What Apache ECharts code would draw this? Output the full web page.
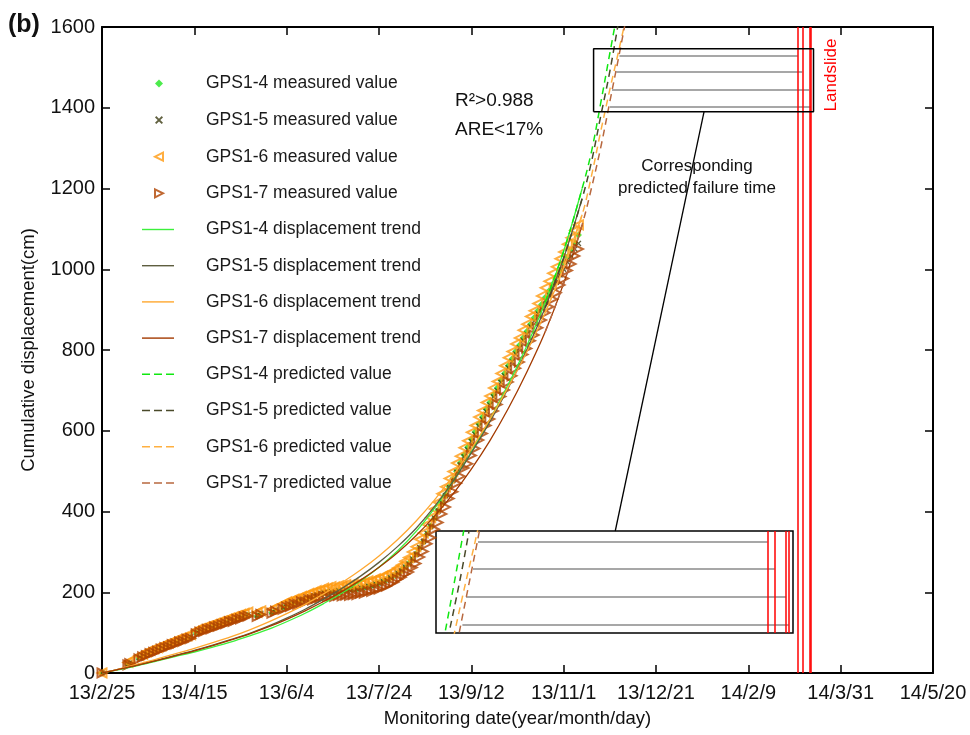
<!DOCTYPE html>
<html>
<head>
<meta charset="utf-8">
<script src="https://cdn.jsdelivr.net/npm/echarts@6/dist/echarts.min.js"></script>
<style>
  html, body { margin: 0; padding: 0; background: #fff; }
  #chart { width: 970px; height: 735px; }
</style>
</head>
<body>
<div id="chart"></div>
<script>
// Days counted from 2013/2/25; tick every 50 days.
const dateTicks = ['13/2/25', '13/4/15', '13/6/4', '13/7/24', '13/9/12', '13/11/1', '13/12/21', '14/2/9', '14/3/31', '14/5/20'];

// Observation days of the GPS survey
const obsDays = [0, 14, 15, 20, 22, 24, 26, 28, 30, 32, 34, 36, 38, 40, 42, 44, 46, 48,
  51, 53, 55, 57, 59, 61, 63, 65, 67, 69, 71, 73, 75, 77, 79, 84, 86, 92, 94,
  98, 100, 102, 104, 106, 108, 110, 112, 114, 116, 118, 120, 122, 124, 126, 128, 130, 132, 134, 136,
  138, 140, 142, 144, 146, 148, 150, 152, 154, 156, 158, 160, 162, 164, 166, 168, 170, 172, 174, 176,
  178, 180, 182, 184, 186, 188, 190, 192, 194, 196, 198, 200, 202, 204, 206, 208, 210, 212, 214, 216,
  218, 220, 222, 224, 226, 228, 230, 232, 234, 236, 238, 240, 242, 244, 246, 248, 250, 252, 254, 256, 258];

// Measured cumulative displacement (cm)
const gps14Measured = [0, 21, 24, 37, 41, 46, 49, 53, 57, 61, 64, 68, 71, 75, 78, 82, 85, 88,
  99, 102, 106, 108, 112, 115, 118, 121, 124, 127, 131, 133, 137, 140, 143, 141, 146, 150, 153,
  162, 166, 170, 173, 177, 180, 184, 186, 190, 192, 196, 198, 200, 201, 202, 203, 204, 205, 206, 207,
  208, 210, 212, 214, 217, 219, 223, 226, 231, 235, 241, 246, 254, 261, 271, 281, 295, 309, 326, 344,
  364, 383, 403, 422, 442, 461, 481, 500, 520, 540, 559, 579, 597, 617, 634, 653, 670, 689, 706, 725,
  742, 761, 778, 796, 812, 830, 846, 864, 880, 897, 913, 930, 946, 963, 980, 997, 1014, 1031, 1048, 1066, 1085];
const gps15Measured = [0, 22, 25, 38, 43, 46, 51, 54, 57, 62, 66, 68, 73, 75, 80, 82, 87, 89,
  100, 104, 106, 111, 112, 117, 119, 123, 125, 130, 131, 136, 137, 142, 144, 143, 148, 151, 156,
  163, 168, 170, 175, 176, 182, 183, 188, 189, 194, 195, 200, 200, 203, 202, 205, 204, 207, 206, 209,
  208, 212, 212, 216, 216, 221, 222, 228, 230, 237, 240, 248, 253, 263, 270, 283, 294, 311, 326, 346,
  363, 384, 401, 422, 439, 460, 477, 498, 515, 536, 553, 574, 591, 612, 628, 648, 664, 684, 700, 720,
  736, 756, 771, 790, 805, 824, 839, 858, 872, 890, 904, 922, 936, 954, 968, 986, 1000, 1018, 1032, 1050, 1064];
const gps16Measured = [0, 26, 30, 43, 47, 52, 56, 60, 63, 67, 71, 74, 78, 82, 85, 89, 92, 95,
  106, 110, 113, 116, 119, 123, 126, 129, 132, 136, 139, 142, 145, 148, 151, 150, 154, 158, 162,
  171, 176, 178, 183, 185, 190, 192, 197, 199, 204, 205, 210, 211, 214, 213, 216, 216, 219, 218, 221,
  220, 224, 224, 228, 228, 233, 234, 240, 242, 249, 252, 260, 267, 277, 286, 300, 313, 331, 347, 368,
  385, 406, 423, 444, 461, 482, 499, 520, 537, 558, 575, 596, 613, 634, 650, 670, 686, 706, 722, 742,
  761, 781, 796, 815, 830, 849, 864, 883, 897, 915, 934, 954, 970, 990, 1006, 1026, 1043, 1062, 1078, 1096, 1110];
const gps17Measured = [0, 20, 23, 35, 40, 43, 48, 51, 54, 59, 63, 65, 70, 72, 77, 79, 84, 86,
  97, 101, 103, 108, 109, 114, 116, 120, 122, 127, 128, 133, 134, 139, 141, 140, 145, 148, 153,
  158, 163, 165, 170, 170, 176, 176, 181, 181, 185, 186, 190, 189, 191, 190, 192, 191, 193, 192, 194,
  194, 198, 198, 202, 202, 207, 208, 213, 215, 221, 225, 232, 237, 245, 250, 261, 271, 287, 301, 320,
  335, 356, 373, 394, 411, 432, 449, 470, 487, 508, 518, 539, 556, 577, 593, 613, 629, 649, 665, 685,
  701, 721, 736, 755, 770, 789, 804, 823, 837, 855, 874, 892, 907, 926, 942, 961, 977, 997, 1013, 1033, 1050];

// Fitted displacement trend (cm)
const trendDays = [0, 10, 20, 30, 40, 50, 60, 70, 80, 90, 100, 110, 120, 130, 140, 150, 160, 170, 180, 190, 200, 210, 220, 230, 240, 250, 260];
const gps14Trend = [0, 9, 19, 30, 41, 52, 64, 77, 92, 108, 127, 148, 172, 198, 228, 262, 302, 350, 408, 474, 548, 628, 715, 810, 918, 1045, 1200];
const gps15Trend = [0, 10, 21, 32, 44, 56, 69, 83, 98, 116, 136, 158, 183, 210, 240, 274, 313, 358, 412, 474, 545, 622, 706, 800, 905, 1028, 1175];
const gps16Trend = [0, 11, 23, 35, 48, 61, 75, 90, 107, 126, 147, 170, 196, 224, 255, 290, 330, 376, 428, 488, 555, 628, 708, 795, 892, 1005, 1135];
const gps17Trend = [0, 10, 20, 31, 43, 55, 68, 82, 97, 114, 133, 154, 177, 202, 230, 262, 298, 340, 388, 443, 505, 575, 655, 745, 845, 965, 1110];

// Predicted displacement (cm)
const predDays = [240, 250, 260, 265, 270, 275, 280, 285];
const gps14Pred = [918, 1045, 1200, 1290, 1410, 1535, 1660, 1790];
const gps15Pred = [905, 1028, 1175, 1265, 1378, 1490, 1620, 1750];
const gps16Pred = [892, 1005, 1135, 1230, 1340, 1445, 1545, 1650];
const gps17Pred = [845, 965, 1110, 1200, 1300, 1415, 1530, 1650];

// Observed landslide times (days) and the predicted failure levels
const landslideDays = [376.8, 379.2, 383.0, 383.9];
const failureLevels = [1529, 1488, 1445, 1403];
const failureStartDays = [280.2, 278.5, 276.2, 275.0];

// Region enlarged in the inset
const zoomDays = [266.2, 385.3];
const zoomDisp = [1390, 1546];
const connectorDay = 326;

const FONT = '"Liberation Sans", Arial, Helvetica, sans-serif';
const pairs = (xs, ys) => xs.map((x, i) => [x, ys[i]]);

const COL = {
  m4: '#1fe61f', m5: '#3a3a10', m6: '#ff9a10', m7: '#b04400',
  t4: '#3cf03c', t5: '#5e5e40', t6: '#ffa830', t7: '#a33a00',
  p4: '#10e810', p5: '#4a4a2a', p6: '#ffb040', p7: '#b8683f'
};

const names = {
  m: ['GPS1-4 measured value', 'GPS1-5 measured value', 'GPS1-6 measured value', 'GPS1-7 measured value'],
  t: ['GPS1-4 displacement trend', 'GPS1-5 displacement trend', 'GPS1-6 displacement trend', 'GPS1-7 displacement trend'],
  p: ['GPS1-4 predicted value', 'GPS1-5 predicted value', 'GPS1-6 predicted value', 'GPS1-7 predicted value']
};

// marker shapes
const crossPath = 'path://M0,1.6L1.6,0L5,3.4L8.4,0L10,1.6L6.6,5L10,8.4L8.4,10L5,6.6L1.6,10L0,8.4L3.4,5Z';
const leftTri = 'path://M10,0L0,5L10,10Z';
const rightTri = 'path://M0,0L10,5L0,10Z';
// legend keys for lines
const solidKey = 'path://M0,0L32,0L32,1.4L0,1.4Z';
const dashKey = 'path://M0,0h8v1.5h-8zM12,0h8v1.5h-8zM24,0h8v1.5h-8z';

function measured(name, ys, symbol, size, itemStyle) {
  return {
    name, type: 'scatter', xAxisIndex: 0, yAxisIndex: 0,
    data: pairs(obsDays, ys), symbol, symbolSize: size, symbolKeepAspect: true,
    itemStyle, z: 2, silent: true
  };
}
function curve(name, xs, ys, color, dashed, axis, z) {
  return {
    name, type: 'line', xAxisIndex: axis, yAxisIndex: axis,
    data: pairs(xs, ys), symbol: 'none', showSymbol: false, smooth: 0.35, clip: true,
    lineStyle: { color, width: dashed ? 1.5 : 1.3, type: dashed ? [7, 5] : 'solid' },
    itemStyle: { color }, z: z || 3, silent: true
  };
}

const predSets = [[gps14Pred, COL.p4], [gps15Pred, COL.p5], [gps16Pred, COL.p6], [gps17Pred, COL.p7]];

const series = [
  measured(names.m[0], gps14Measured, 'diamond', 7, { color: COL.m4 }),
  measured(names.m[1], gps15Measured, crossPath, 6, { color: COL.m5 }),
  measured(names.m[2], gps16Measured, leftTri, 9, { color: 'rgba(255,255,255,0)', borderColor: COL.m6, borderWidth: 2 }),
  measured(names.m[3], gps17Measured, rightTri, 9, { color: 'rgba(255,255,255,0)', borderColor: COL.m7, borderWidth: 2 }),
  curve(names.t[0], trendDays, gps14Trend, COL.t4, false, 0),
  curve(names.t[1], trendDays, gps15Trend, COL.t5, false, 0),
  curve(names.t[2], trendDays, gps16Trend, COL.t6, false, 0),
  curve(names.t[3], trendDays, gps17Trend, COL.t7, false, 0),
  ...predSets.map((s, i) => curve(names.p[i], predDays, s[0], s[1], true, 0)),
  // outline of the enlarged region
  {
    type: 'line', xAxisIndex: 0, yAxisIndex: 0, symbol: 'none', silent: true, z: 5,
    data: [[zoomDays[0], zoomDisp[0]], [zoomDays[1], zoomDisp[0]], [zoomDays[1], zoomDisp[1]], [zoomDays[0], zoomDisp[1]], [zoomDays[0], zoomDisp[0]]],
    lineStyle: { color: '#000', width: 1.5 }
  },
  // predicted failure level -> landslide time
  {
    type: 'lines', coordinateSystem: 'cartesian2d', xAxisIndex: 0, yAxisIndex: 0, silent: true, z: 4,
    data: failureLevels.map((v, i) => ({ coords: [[failureStartDays[i], v], [landslideDays[i], v]] })),
    lineStyle: { color: '#8a8a8a', width: 1.5, opacity: 1 }
  },
  // landslide times
  {
    type: 'lines', coordinateSystem: 'cartesian2d', xAxisIndex: 0, yAxisIndex: 0, silent: true, z: 5,
    data: landslideDays.map(d => ({ coords: [[d, 0], [d, 1600]] })),
    lineStyle: { color: '#ff0000', width: 1.5, opacity: 1 }
  },
  // inset: enlarged view
  ...predSets.map(s => curve('', predDays, s[0], s[1], true, 2, 4)),
  {
    type: 'lines', coordinateSystem: 'cartesian2d', xAxisIndex: 2, yAxisIndex: 2, silent: true, z: 4,
    data: failureLevels.map((v, i) => ({ coords: [[failureStartDays[i], v], [landslideDays[i], v]] })),
    lineStyle: { color: '#8a8a8a', width: 1.5, opacity: 1 }
  },
  {
    type: 'lines', coordinateSystem: 'cartesian2d', xAxisIndex: 2, yAxisIndex: 2, silent: true, z: 5,
    data: landslideDays.map(d => ({ coords: [[d, zoomDisp[0]], [d, zoomDisp[1]]] })),
    lineStyle: { color: '#ff0000', width: 1.5, opacity: 1 }
  }
];

const axisLine = { show: true, onZero: false, lineStyle: { color: '#000', width: 2 } };
const tickIn = { show: true, inside: true, length: 8, lineStyle: { color: '#000', width: 1.5 } };
const legendText = pad => ({ fontFamily: FONT, fontSize: 17.5, lineHeight: 17, color: '#1a1a1a', padding: [0, 0, 0, pad] });

const option = {
  animation: false,
  backgroundColor: '#fff',
  textStyle: { fontFamily: FONT },
  grid: [
    { left: 102, top: 27, right: 37, bottom: 62, outerBoundsMode: 'none', containLabel: false },
    { left: 436, top: 531, width: 357, height: 102, show: true, borderColor: '#000', borderWidth: 1.5,
      backgroundColor: 'rgba(0,0,0,0)', outerBoundsMode: 'none', containLabel: false }
  ],
  legend: [
    {
      data: names.m,
      orient: 'vertical', left: 154, top: 74.5, padding: 0,
      itemWidth: 8, itemHeight: 8, itemGap: 18.6,
      textStyle: legendText(38), selectedMode: false
    },
    {
      data: [...names.t.map(n => ({ name: n, icon: solidKey })), ...names.p.map(n => ({ name: n, icon: dashKey }))],
      orient: 'vertical', left: 142, top: 220.5, padding: 0,
      itemWidth: 32, itemHeight: 8, itemGap: 18.2,
      textStyle: legendText(27), selectedMode: false
    }
  ],
  xAxis: [
    {
      type: 'value', gridIndex: 0, position: 'bottom', min: 0, max: 450, interval: 50,
      axisLine, axisTick: tickIn, splitLine: { show: false },
      axisLabel: { fontFamily: FONT, fontSize: 20, color: '#111', margin: 10,
        formatter: v => dateTicks[Math.round(v / 50)] || '' },
      name: 'Monitoring date(year/month/day)', nameLocation: 'middle', nameGap: 36,
      nameTextStyle: { fontFamily: FONT, fontSize: 18.5, color: '#111' }
    },
    {
      type: 'value', gridIndex: 0, position: 'top', min: 0, max: 450, interval: 50,
      axisLine, axisTick: tickIn, axisLabel: { show: false }, splitLine: { show: false }
    },
    { type: 'value', gridIndex: 1, min: zoomDays[0], max: zoomDays[1], show: false, splitLine: { show: false } }
  ],
  yAxis: [
    {
      type: 'value', gridIndex: 0, position: 'left', min: 0, max: 1600, interval: 200,
      axisLine, axisTick: tickIn, splitLine: { show: false },
      axisLabel: { fontFamily: FONT, fontSize: 20, color: '#111', margin: 7, formatter: v => String(v) },
      name: 'Cumulative displacement(cm)', nameLocation: 'middle', nameGap: 64,
      nameTextStyle: { fontFamily: FONT, fontSize: 18.5, color: '#111' }
    },
    {
      type: 'value', gridIndex: 0, position: 'right', min: 0, max: 1600, interval: 200,
      axisLine, axisTick: tickIn, axisLabel: { show: false }, splitLine: { show: false }
    },
    { type: 'value', gridIndex: 1, min: zoomDisp[0], max: zoomDisp[1], show: false, splitLine: { show: false } }
  ],
  series
};

const chart = echarts.init(document.getElementById('chart'), null, { renderer: 'canvas' });
chart.setOption(option);

// Annotations and the leader line between the marked region and its enlargement
const from = chart.convertToPixel({ xAxisIndex: 0, yAxisIndex: 0 }, [connectorDay, zoomDisp[0]]);
const to = chart.convertToPixel({ xAxisIndex: 2, yAxisIndex: 2 }, [connectorDay, zoomDisp[1]]);
const txt = (text, x, y, extra) => ({
  type: 'text', x, y, silent: true,
  style: Object.assign({ text, fill: '#111', font: '17px ' + FONT, textAlign: 'left', textVerticalAlign: 'middle' }, extra || {})
});
chart.setOption({
  graphic: [
    { type: 'line', silent: true, shape: { x1: from[0], y1: from[1], x2: to[0], y2: to[1] }, style: { stroke: '#000', lineWidth: 1.3 } },
    txt('(b)', 8, 25, { font: 'bold 25px ' + FONT }),
    txt('R²>0.988', 455, 101, { font: '19px ' + FONT }),
    txt('ARE<17%', 455, 130, { font: '19px ' + FONT }),
    txt('Corresponding', 697, 166, { textAlign: 'center' }),
    txt('predicted failure time', 697, 188, { textAlign: 'center' }),
    Object.assign(txt('Landslide', 0, 0, { textAlign: 'center', fill: '#ff0000' }), { x: 831, y: 75, rotation: Math.PI / 2 })
  ]
});
</script>
</body>
</html>
